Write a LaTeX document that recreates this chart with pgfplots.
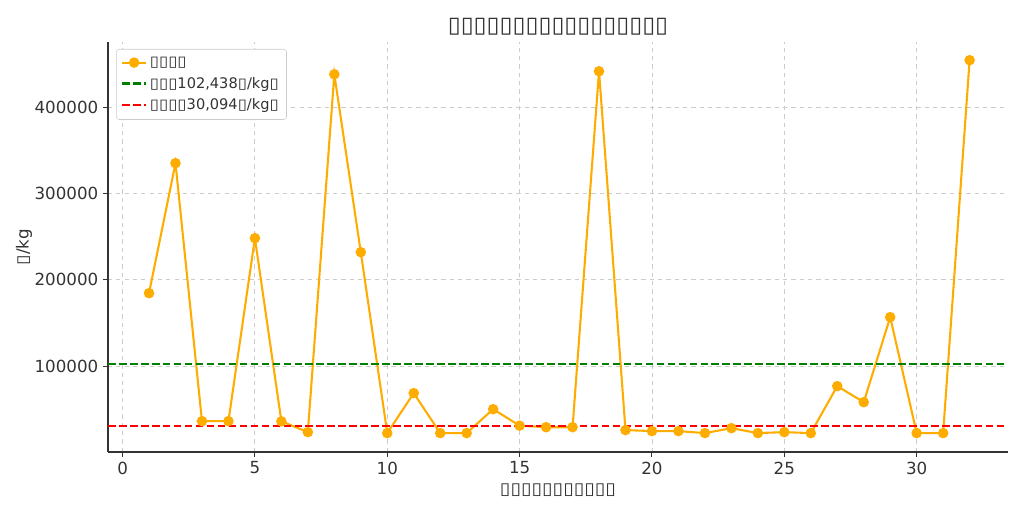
\documentclass[border=0pt]{standalone}
\usepackage{fontspec}
\setmainfont{DejaVu Sans}
\usepackage{pgfplots}
\pgfplotsset{compat=1.18}
\definecolor{lineor}{RGB}{255,172,0}
\definecolor{mgreen}{RGB}{0,128,0}
\definecolor{txt}{RGB}{51,51,51}
\definecolor{gridc}{RGB}{204,204,204}
\newcommand{\tf}{\scalebox{1.15}[1]{▯}}
\newcommand{\tft}{\scalebox{1.06}[1]{▯}}
\begin{document}
\begin{tikzpicture}[x=1pt,y=1pt]
\path[use as bounding box] (-77.76pt,-43.2pt) rectangle (659.52pt,325.44pt);
\begin{axis}[
  at={(0,0)}, anchor=south west,
  scale only axis, width=648pt, height=295.2pt,
  xmin=-0.55, xmax=33.45, ymin=500, ymax=475500,
  axis x line*=bottom, axis y line*=left,
  axis line style={-, draw=txt, line width=0.9pt},
  xtick={0,5,...,30}, ytick={100000,200000,300000,400000},
  tick align=outside, tick style={draw=txt, line width=0.7pt},
  major tick length=3.5pt,
  scaled y ticks=false,
  yticklabel style={/pgf/number format/fixed, /pgf/number format/1000 sep={}},
  /pgf/number format/assume math mode=true,
  ticklabel style={font=\fontsize{12}{14}\selectfont, text=txt},
  grid=major, grid style={dashed, gridc, line width=0.6pt},
  title={\fontsize{16}{19}\selectfont\tft\tft\tft\tft\tft\tft\tft\tft\tft\tft\tft\tft\tft\tft\tft\tft\tft},
  title style={text=txt, yshift=-5pt},
  xlabel={\tf\tf\tf\tf\tf\tf\tf\tf\tf\tf\tf}, ylabel={\tf/kg},
  label style={font=\fontsize{12}{14}\selectfont, text=txt},
  ylabel style={yshift=-5pt},
  legend style={font=\fontsize{10.5}{13}\selectfont, text=txt, draw=gridc, rounded corners=2pt, at={(0.009,0.983)}, anchor=north west, row sep=2.2pt, inner sep=3.5pt},
  legend cell align=left,
]
\addplot[lineor, line width=1.5pt, mark=*, mark size=3pt, mark options={fill=lineor, draw=lineor}] coordinates {
(1,184500) (2,335100) (3,36250) (4,36250) (5,248200) (6,36000) (7,23500) (8,438100)
(9,232000) (10,22400) (11,68700) (12,22400) (13,22400) (14,50100) (15,31000) (16,29200)
(17,29200) (18,441600) (19,25900) (20,24700) (21,24700) (22,22400) (23,28100) (24,22400)
(25,23500) (26,22400) (27,76800) (28,58200) (29,156700) (30,22400) (31,22400) (32,454400)
};
\addlegendentry{\tf\tf\tf\tf}
\addplot[mgreen, dash pattern=on 5.5pt off 2.4pt, line width=1.5pt] coordinates {(-0.55,102438) (33.45,102438)};
\addlegendentry{\tf\tf\tf102,438\tf/kg\tf}
\addplot[red, dash pattern=on 5.5pt off 2.4pt, line width=1.5pt] coordinates {(-0.55,30094) (33.45,30094)};
\addlegendentry{\tf\tf\tf\tf30,094\tf/kg\tf}
\end{axis}
\end{tikzpicture}
\end{document}
